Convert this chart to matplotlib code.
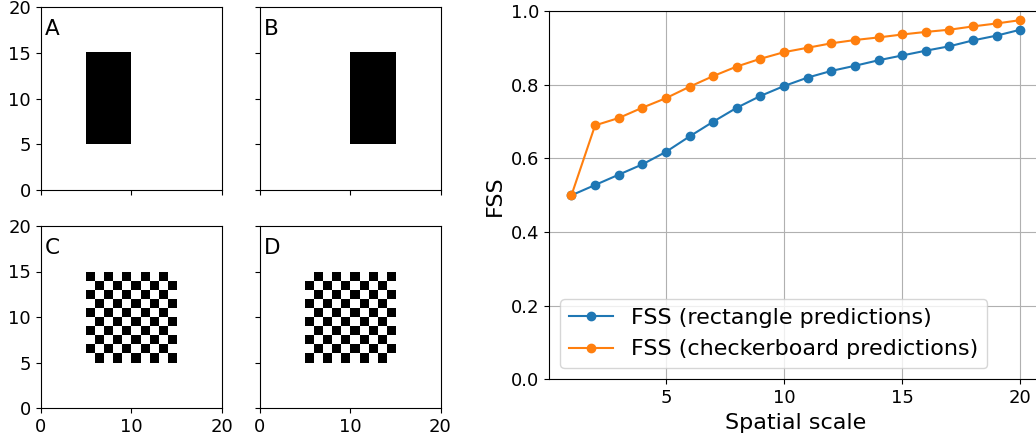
import matplotlib
matplotlib.use("Agg")
import matplotlib.pyplot as plt
import numpy as np

# Field size and object definitions (grid cells)
n = 20
rect_obs = (5, 10, 5, 15)      # x0, x1, y0, y1
rect_pred = (10, 15, 5, 15)
checker_box = (5, 15, 5, 15)
panel_labels = ["A", "B", "C", "D"]

# FSS values
scales = np.arange(1, 21)
fss_rect = [0.500, 0.528, 0.556, 0.584, 0.618, 0.660, 0.700, 0.738, 0.770, 0.797,
            0.820, 0.838, 0.852, 0.867, 0.880, 0.893, 0.905, 0.921, 0.934, 0.950]
fss_check = [0.500, 0.690, 0.710, 0.738, 0.764, 0.795, 0.824, 0.850, 0.871, 0.889,
             0.901, 0.913, 0.922, 0.929, 0.937, 0.944, 0.950, 0.959, 0.967, 0.976]


def rectangle(box):
    f = np.zeros((n, n))
    x0, x1, y0, y1 = box
    f[y0:y1, x0:x1] = 1
    return f


def checkerboard(box, parity):
    f = np.zeros((n, n))
    x0, x1, y0, y1 = box
    yy, xx = np.mgrid[0:n, 0:n]
    inside = (xx >= x0) & (xx < x1) & (yy >= y0) & (yy < y1)
    f[inside & ((xx + yy) % 2 == parity)] = 1
    return f


fields = [rectangle(rect_obs), rectangle(rect_pred),
          checkerboard(checker_box, 1), checkerboard(checker_box, 0)]

W, H = 1036, 437
fig = plt.figure(figsize=(W / 100, H / 100), dpi=100)

def px_axes(left, top, width, height):
    return fig.add_axes([left / W, (H - top - height) / H, width / W, height / H])

positions = [(40.7, 7, 181, 183), (259.5, 7, 181, 183),
             (40.7, 226, 181, 182), (259.5, 226, 181, 182)]

tick_fs = 13
label_fs = 16
for i, (pos, field, lab) in enumerate(zip(positions, fields, panel_labels)):
    ax = px_axes(*pos)
    ax.imshow(field, cmap="binary", origin="lower", extent=[0, n, 0, n],
              interpolation="nearest", aspect="auto", vmin=0, vmax=1)
    ax.set_xticks([0, 10, 20])
    ax.set_yticks([0, 5, 10, 15, 20])
    ax.tick_params(labelsize=tick_fs)
    if i < 2:
        ax.set_xticklabels([])
    if i % 2 == 1:
        ax.set_yticklabels([])
    ax.text(0.5, 16.9, lab, fontsize=15.5, va="baseline")

# FSS curves
ax = px_axes(549, 11.3, 493.8, 368)
ax.plot(scales, fss_rect, "o-", label="FSS (rectangle predictions)")
ax.plot(scales, fss_check, "o-", label="FSS (checkerboard predictions)")
ax.set_ylim(0, 1)
ax.set_xlim(0.05, 20.95)
ax.set_xticks([5, 10, 15, 20])
ax.grid(True)
ax.tick_params(labelsize=tick_fs)
ax.set_xlabel("Spatial scale", fontsize=label_fs)
ax.set_ylabel("FSS", fontsize=label_fs)
ax.legend(loc="lower left", fontsize=label_fs)

fig.savefig("out.png", dpi=100)
